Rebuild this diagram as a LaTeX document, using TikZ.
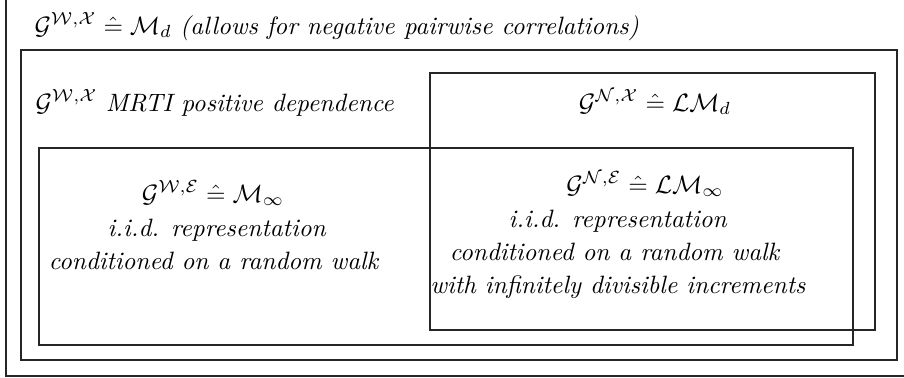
\documentclass[tikz,border=0pt]{standalone}
\usepackage{amsmath}
\begin{document}
\begin{tikzpicture}[x=0.3984pt,y=-0.3984pt,
  frame/.style={draw=black!85,line width=0.5pt},
  lbl/.style={inner sep=0pt,anchor=base},
  lblw/.style={inner sep=0pt,anchor=base west}]
\useasboundingbox (0,0) rectangle (904,377);
% boxes
\draw[frame] (6,-10) rectangle (915,376);
\draw[frame] (21,50) rectangle (897,360);
\draw[frame] (430,73) rectangle (875,330);
\draw[frame] (39,148) rectangle (853,345);
% texts
\node[lblw] (top) at (34,34) {$\mathcal{G}^{\mathcal{W},\mathcal{X}} \mathrel{\hat{=}} \mathcal{M}_d$ \textit{(allows for negative pairwise correlations)}};
\node[lblw] (mrti) at (35,111) {$\mathcal{G}^{\mathcal{W},\mathcal{X}}$ \textit{MRTI positive dependence}};
\node[lbl] (nx) at (655,111) {$\mathcal{G}^{\mathcal{N},\mathcal{X}} \mathrel{\hat{=}} \mathcal{LM}_d$};
% W,E
\node[lbl] (we1) at (213,202) {$\mathcal{G}^{\mathcal{W},\mathcal{E}} \mathrel{\hat{=}} \mathcal{M}_\infty$};
\node[lbl] (we2) at (217,236) {\textit{i.i.d. representation}};
\node[lbl] (we3) at (214,269) {\textit{conditioned on a random walk}};
% N,E
\node[lbl] (ne1) at (645,193) {$\mathcal{G}^{\mathcal{N},\mathcal{E}} \mathrel{\hat{=}} \mathcal{LM}_\infty$};
\node[lbl] (ne2) at (618,227) {\textit{i.i.d. representation}};
\node[lbl] (ne3) at (615,260) {\textit{conditioned on a random walk}};
\node[lbl] (ne4) at (618,293) {\textit{with infinitely divisible increments}};
\end{tikzpicture}
\end{document}
